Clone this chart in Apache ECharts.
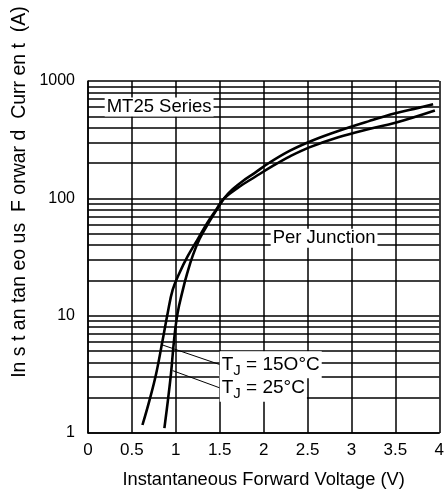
<!DOCTYPE html>
<html><head><meta charset="utf-8">
<script src="https://cdn.jsdelivr.net/npm/echarts@6/dist/echarts.min.js"></script>
<style>html,body{margin:0;padding:0;background:#fff}#c{width:447px;height:498px}</style>
</head><body><div id="c"></div>
<script>
const xTicks = [0, 0.5, 1, 1.5, 2, 2.5, 3, 3.5, 4];
const yTicks = [1, 10, 100, 1000];
const minorGrid = [2,3,4,5,6,7,8,9,20,30,40,50,60,70,80,90,200,300,400,500,600,700,800,900];
const v25 = [0.87,0.91,0.945,0.98,1.02,1.08,1.13,1.19,1.27,1.38,1.47,1.55,1.65,1.76,1.9,2.06,2.3,2.55,2.85,3.2,3.5,3.76,3.93];
const i25 = [1.1,1.9,3.2,6.2,10.5,16.6,23,32,45,63,81,100,120,140,165,200,255,310,375,455,530,590,635];
const v150 = [0.62,0.70,0.776,0.85,0.907,0.964,1.04,1.134,1.247,1.36,1.46,1.55,1.72,1.9,2.1,2.3,2.52,2.85,3.2,3.5,3.95];
const i150 = [1.17,1.9,3.2,6.2,10.5,16.6,23,32,44.5,62,80,100,125,152,188,228,272,332,390,440,560];
const leader150 = [[0.844,5.64],[1.51,3.81]];
const leader25 = [[0.964,3.4],[1.51,2.41]];
const notes = [
  {text:'MT25 Series', x:0.19, y:600},
  {text:'Per Junction', x:2.08, y:45.8},
  {text:'{a|T}{s|J}{a| = 15O°C}', x:1.50, y:3.81},
  {text:'{a|T}{s|J}{a| = 25°C}', x:1.50, y:2.41}
];
const FONT = 'Liberation Sans, Arial, sans-serif';
const chart = echarts.init(document.getElementById('c'), null, {renderer:'canvas'});
const zip = (a,b)=>a.map((v,k)=>[v,b[k]]);
const axisLine = {lineStyle:{color:'#000',width:1.5}};
const split = {show:true,lineStyle:{color:'#000',width:1.5}};
chart.setOption({
  animation:false,
  grid:{left:88,right:6,top:81,bottom:65},
  xAxis:{type:'value',min:0,max:4,interval:0.5,axisLine:axisLine,axisTick:{show:false},splitLine:split,
    axisLabel:{color:'#000',fontSize:17,fontFamily:FONT,margin:9,formatter:v=>String(v)},
    name:'Instantaneous Forward Voltage (V)',nameLocation:'middle',nameGap:38,
    nameTextStyle:{color:'#000',fontSize:18.3,fontFamily:FONT}},
  yAxis:{type:'log',logBase:10,min:1,max:1000,axisLine:axisLine,axisTick:{show:false},splitLine:split,
    axisLabel:{color:'#000',fontSize:16,fontFamily:FONT,margin:13,formatter:v=>String(v)}},
  series:[
    {type:'line',data:zip(v25,i25),smooth:0.4,symbol:'none',lineStyle:{color:'#000',width:2.6},
      markLine:{silent:true,symbol:'none',label:{show:false},lineStyle:{color:'#000',width:1.5,type:'solid'},
        data:minorGrid.map(v=>({yAxis:v}))}},
    {type:'line',data:zip(v150,i150),smooth:0.4,symbol:'none',lineStyle:{color:'#000',width:2.6}},
    {type:'line',data:leader150,symbol:'none',lineStyle:{color:'#000',width:1}},
    {type:'line',data:leader25,symbol:'none',lineStyle:{color:'#000',width:1}}
  ]
});
const g = notes.map((n,k)=>{
  const p = chart.convertToPixel({gridIndex:0},[n.x,n.y]);
  return {type:'text',x:p[0],y:p[1],z:110-k,style:{text:n.text,fill:'#000',font:'18.5px '+FONT,
    verticalAlign:'middle',align:'left',backgroundColor:'#fff',padding:[0,2,0,2],
    rich:{a:{fontSize:19,fontFamily:FONT,fill:'#000'},s:{fontSize:15,fontFamily:FONT,fill:'#000',padding:[12,0,0,0]}}}};
});
g.push({type:'text',x:20,y:192,rotation:Math.PI/2,style:{text:'In s t an tan eo us  F orwar d  Curr en t  (A)',
  fill:'#000',font:'19.5px '+FONT,align:'center',verticalAlign:'middle'}});
chart.setOption({graphic:g});
</script></body></html>
